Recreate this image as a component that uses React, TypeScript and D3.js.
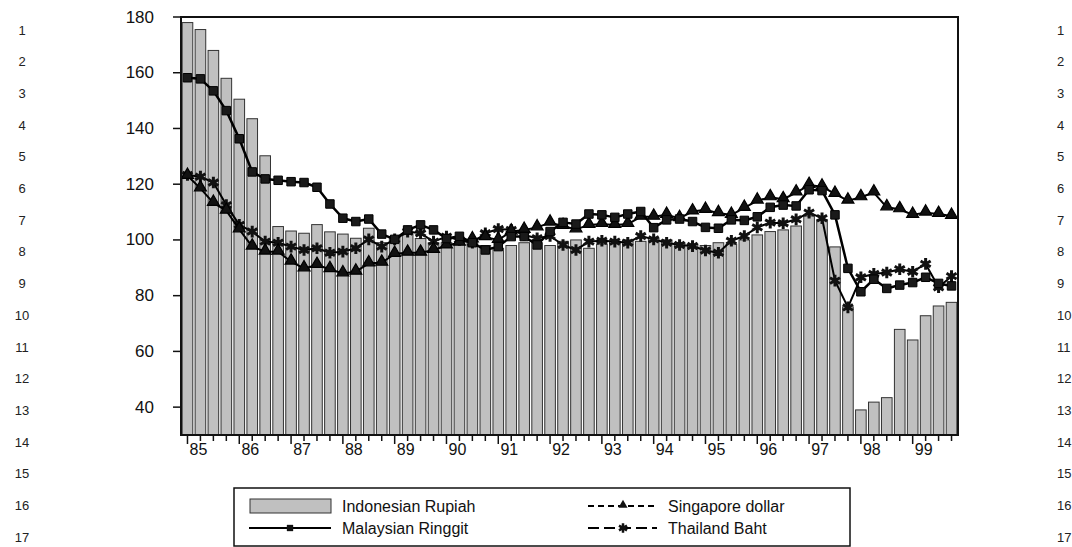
import React from "react";
import * as d3 from "d3";

const years = ["85","86","87","88","89","90","91","92","93","94","95","96","97","98","99"];
const quarterNames = ["Q1","Q2","Q3","Q4"];
const categories = years.flatMap((y) => quarterNames.map((q) => y + q));
const yTicks = [40, 60, 80, 100, 120, 140, 160, 180];
const rowNumbers = d3.range(1, 18);

const rupiah = [
  178, 175.5, 168, 158,
  150.5, 143.5, 130.2, 104.8,
  103.2, 102.4, 105.5, 102.9,
  102.1, 100.6, 104.2, 99,
  101, 102, 100.5, 99,
  99, 98.5, 99, 98,
  97, 98, 99, 99,
  98, 99.5, 100, 97,
  98.5, 99.5, 100, 99.5,
  100.5, 100, 99, 98.5,
  98, 99, 98.5, 100,
  101.8, 103, 103.6, 105,
  108.6, 107.2, 97.5, 76,
  39, 41.8, 43.4, 67.9,
  64.1, 72.8, 76.3, 77.6,
];

const ringgit = [
  158.2, 157.8, 153.5, 146.4,
  136.3, 124.4, 121.9, 121.4,
  120.9, 120.6, 118.9, 112.9,
  107.8, 106.6, 107.5, 102.1,
  100.2, 103.6, 105.4, 103.6,
  100.5, 101.3, 99, 96.4,
  97.6, 101.2, 101.2, 98.2,
  103, 106.3, 105.7, 109.3,
  109, 108.1, 109.3, 110.2,
  104.4, 107.2, 107.5, 106.6,
  104.5, 104.2, 107.2, 107,
  108.3, 111.7, 112.5, 112.2,
  118, 117.7, 109, 89.8,
  81.4, 85.9, 82.6, 83.8,
  84.7, 86.6, 84.4, 83.5,
];

const singapore = [
  123, 118.5, 113.3, 110.5,
  103.8, 97.6, 95.8, 95.8,
  92.2, 89.8, 91, 89.5,
  88, 88.6, 91.6, 91.8,
  95, 95.4, 95.4, 96.4,
  98, 99, 100.2, 101,
  100, 103, 103.6, 104.5,
  106.2, 105, 103.8, 105.4,
  105.7, 105.4, 105.7, 108.3,
  108.3, 109, 107.8, 110.2,
  110.8, 109.6, 109, 111.5,
  114.1, 115.3, 114.6, 117,
  119.7, 119.1, 116.5, 114.1,
  115.3, 117, 111.7, 111,
  109, 109.8, 109.3, 108.6,
];

const baht = [
  123.3, 122.7, 120.6, 112.5,
  105.4, 103, 99.4, 99,
  97.6, 96.4, 97, 95.4,
  95.8, 97, 100.2, 97.6,
  100.2, 103, 102.4, 99.4,
  101.2, 100, 99, 102.4,
  103.9, 103.6, 101.8, 100.6,
  101.4, 98.2, 96.4, 99.4,
  99.7, 99.4, 99, 101.4,
  100.2, 99, 98.2, 97.8,
  96.2, 95.4, 99.7, 101.4,
  104.5, 106.2, 106, 107.4,
  109.8, 107.8, 85.4, 75.8,
  86.6, 87.8, 88.3, 89.5,
  88.6, 91.4, 83, 87,
];

const legendLeft = [
  { name: "Indonesian Rupiah", kind: "bar" },
  { name: "Malaysian Ringgit", kind: "square" },
];
const legendRight = [
  { name: "Singapore dollar", kind: "triangle" },
  { name: "Thailand Baht", kind: "asterisk" },
];

const W = 1072;
const H = 547;
const M = { left: 181, right: 958, top: 17, bottom: 435 };
const FONT = "'Liberation Sans', Arial, Helvetica, sans-serif";

const x = d3.scaleBand<string>().domain(categories).range([M.left, M.right]).paddingInner(0.18).paddingOuter(0.09);
const y = d3.scaleLinear().domain([30, 180]).range([M.bottom, M.top]);
const cx = (c: string) => (x(c) as number) + x.bandwidth() / 2;

const squarePath = d3.symbol(d3.symbolSquare, 72)()!;
const trianglePath = d3.symbol(d3.symbolTriangle, 62)()!;
const asteriskPath = d3.symbol(d3.symbolAsterisk, 95)()!;

function Marker({ kind, tx, ty }: { kind: string; tx: number; ty: number }) {
  if (kind === "square")
    return <path d={squarePath} transform={`translate(${tx},${ty})`} fill="#1a1a1a" stroke="#000" strokeWidth={1} />;
  if (kind === "triangle")
    return <path d={trianglePath} transform={`translate(${tx},${ty - 1})`} fill="#111" stroke="#000" strokeWidth={1.2} />;
  return <path d={asteriskPath} transform={`translate(${tx},${ty})`} fill="none" stroke="#111" strokeWidth={3} />;
}

function Series({ values, kind, width }: { values: number[]; kind: string; width: number }) {
  const line = d3
    .line<number>()
    .x((_, i) => cx(categories[i]))
    .y((v) => y(v));
  return (
    <g>
      <path d={line(values)!} fill="none" stroke="#000" strokeWidth={width} strokeLinejoin="round" />
      {values.map((v, i) => (
        <Marker key={i} kind={kind} tx={cx(categories[i])} ty={y(v)} />
      ))}
    </g>
  );
}

export default function App() {
  const bw = x.bandwidth();
  return (
    <svg width={W} height={H} style={{ position: "absolute", left: 0, top: 0, background: "#fff" }} fontFamily={FONT}>
      <rect x={0} y={0} width={W} height={H} fill="#fff" />
      {/* row numbers */}
      {rowNumbers.map((n, i) => (
        <g key={n}>
          <text x={22} y={30 + i * 31.7} fontSize={13} textAnchor="middle" dominantBaseline="central" fill="#222">{n}</text>
          <text x={1057} y={30 + i * 31.7} fontSize={13} textAnchor="start" dominantBaseline="central" fill="#222">{n}</text>
        </g>
      ))}

      {/* bars */}
      {rupiah.map((v, i) => (
        <rect
          key={i}
          x={x(categories[i])}
          y={y(v)}
          width={bw}
          height={y(30) - y(v)}
          fill="#c0c0c0"
          stroke="#333"
          strokeWidth={1}
        />
      ))}

      <Series values={baht} kind="asterisk" width={2} />
      <Series values={singapore} kind="triangle" width={2} />
      <Series values={ringgit} kind="square" width={2.5} />

      {/* frame */}
      <rect x={M.left} y={M.top} width={M.right - M.left} height={M.bottom - M.top} fill="none" stroke="#111" strokeWidth={2} />

      {/* y axis */}
      {yTicks.map((t) => (
        <g key={t}>
          <line x1={M.left - 8} x2={M.left} y1={y(t)} y2={y(t)} stroke="#111" strokeWidth={1.5} />
          <text x={154} y={y(t)} fontSize={17} textAnchor="end" dominantBaseline="central" fill="#111">{t}</text>
        </g>
      ))}

      {/* x axis */}
      {categories.map((c, i) => (
        <line key={c} x1={cx(c)} x2={cx(c)} y1={M.bottom} y2={M.bottom + (i % 4 === 0 ? 9 : 6)} stroke="#111" strokeWidth={1.5} />
      ))}
      {years.map((yr) => (
        <text key={yr} x={cx(yr + "Q1") + 11} y={449} fontSize={16} textAnchor="middle" dominantBaseline="central" fill="#111">{yr}</text>
      ))}

      {/* legend */}
      <rect x={234} y={488} width={616} height={58} fill="#fff" stroke="#111" strokeWidth={1.5} />
      {legendLeft.map((d, i) => {
        const ly = 506 + i * 22;
        return (
          <g key={d.name}>
            {d.kind === "bar" ? (
              <rect x={250} y={ly - 7} width={81} height={14} fill="#c0c0c0" stroke="#333" strokeWidth={1} />
            ) : (
              <g>
                <line x1={249} x2={331} y1={ly} y2={ly} stroke="#000" strokeWidth={2} />
                <path d={d3.symbol(d3.symbolSquare, 40)()!} transform={`translate(290,${ly})`} fill="#111" />
              </g>
            )}
            <text x={342} y={ly} fontSize={16} dominantBaseline="central" fill="#111">{d.name}</text>
          </g>
        );
      })}
      {legendRight.map((d, i) => {
        const ly = 506 + i * 22;
        return (
          <g key={d.name}>
            <line x1={588} x2={657} y1={ly} y2={ly} stroke="#000" strokeWidth={2} strokeDasharray={d.kind === "triangle" ? "6,4" : "11,5"} />
            {d.kind === "triangle" ? (
              <path d={d3.symbol(d3.symbolTriangle, 36)()!} transform={`translate(623,${ly - 1})`} fill="#111" />
            ) : (
              <path d={d3.symbol(d3.symbolAsterisk, 60)()!} transform={`translate(623,${ly})`} fill="none" stroke="#111" strokeWidth={2.5} />
            )}
            <text x={668} y={ly} fontSize={16} dominantBaseline="central" fill="#111">{d.name}</text>
          </g>
        );
      })}
    </svg>
  );
}
